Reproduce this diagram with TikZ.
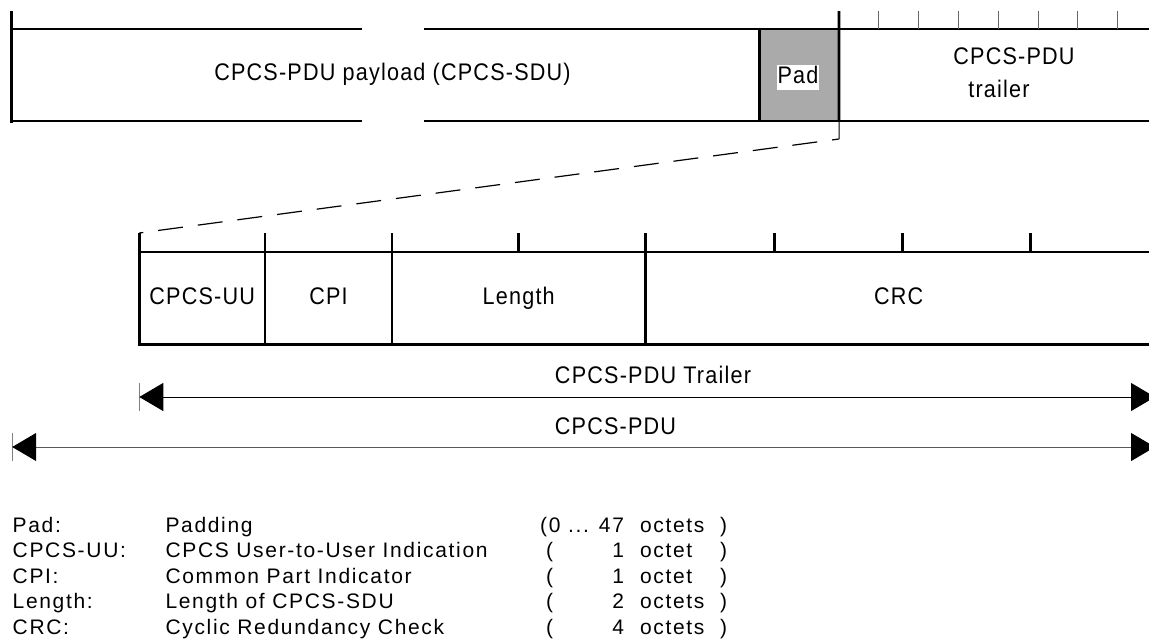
\documentclass[tikz,border=0pt]{standalone}
\usepackage{fontspec}
\setmainfont[FakeStretch=0.9,LetterSpace=5]{Liberation Sans}
\newfontfamily\legendfont[LetterSpace=8]{Liberation Sans}
\usetikzlibrary{arrows.meta,calc}
\definecolor{padgray}{RGB}{170,170,170}

\begin{document}
\begin{tikzpicture}[x=1pt,y=-1pt,
  every node/.style={font=\fontsize{24}{29}\selectfont, inner sep=0pt, outer sep=0pt},
  frame/.style={line width=2.6pt},
  octick/.style={line width=1pt, black!60},
  field/.style={draw, line width=2.6pt, minimum height=92.5pt, inner sep=0pt,
    anchor=north west, text height=17pt, text depth=5pt},
  padbox/.style={draw, line width=2.6pt, fill=padgray, minimum width=79.7pt,
    minimum height=92pt, anchor=north west},
  padlabel/.style={fill=white, inner xsep=1pt, inner ysep=1.5pt,
    text depth=4.5pt, anchor=base},
  thinrule/.style={line width=1pt},
  zoomline/.style={line width=1.2pt, dash pattern=on 25pt off 15pt, dash phase=18pt},
  span/.style={line width=1pt, {Triangle[length=24pt,width=28pt,color=black]}-{Triangle[length=24pt,width=28pt,color=black]}},
  tipbar/.style={line width=0.8pt, black!50},
  lbl/.style={anchor=base},
  lgd/.style={anchor=base west, font=\legendfont\fontsize{21}{25}\selectfont},
  lgdr/.style={anchor=base east, font=\legendfont\fontsize{21}{25}\selectfont}]

\useasboundingbox (0,0) rectangle (1149,641);
\clip (0,0) rectangle (1149,641);

% ---- CPCS-PDU: payload, pad and trailer ----
\draw[frame] (11.7,11) -- (11.7,123);
\draw[frame] (11.7,29) -- (362,29);
\draw[frame] (11.7,121) -- (362,121);
\draw[frame] (424,29) -- (1160,29);
\draw[frame] (424,121) -- (1160,121);
\node[lbl] (payload) at (392.5,80) {CPCS-PDU payload (CPCS-SDU)};

\node[padbox] (pad) at (759.3,29) {};
\node[padlabel] (padtxt) at (798,83.5) {Pad};
\draw[frame] (839,11) -- (pad.south east);
\draw[thinrule] (pad.south east) -- (839,139) coordinate (padlow);

\foreach \k in {1,...,7}
  \draw[octick] ({839+39.8*\k},11) -- ({839+39.8*\k},29);
\node[lbl] (trlA) at (1014,64) {CPCS-PDU};
\node[lbl] (trlB) at (999,97) {trailer};

% ---- trailer fields ----
\node[field, minimum width=125.7pt] (uu) at (139.3,252) {CPCS-UU};
\node[field, minimum width=127pt] (cpi) at (265,252) {CPI};
\node[field, minimum width=253.5pt] (len) at (392,252) {Length};
\node[field, minimum width=506.5pt] (crc) at (645.5,252) {CRC};
\foreach \x in {139.3,265,392,518.5,645.5,774.5,902.5,1030.5}
  \draw[frame] (\x,233) -- (\x,252);
\coordinate (uutop) at (139.3,233);

\draw[zoomline] (padlow) -- (uutop);

% ---- extent arrows ----
\coordinate (trS) at (139.3,397);
\coordinate (trE) at (1155,397);
\draw[tipbar] ($(trS)+(0,-14)$) -- ($(trS)+(0,14)$);
\draw[span] (trS) -- (trE);
\node[lbl] (trlbl) at (653,383) {CPCS-PDU Trailer};

\coordinate (pdS) at (12.2,447);
\coordinate (pdE) at (1155,447);
\draw[tipbar] ($(pdS)+(0,-14)$) -- ($(pdS)+(0,14)$);
\draw[span, draw=black!65] (pdS) -- (pdE);
\node[lbl] (pdlbl) at (615.5,434) {CPCS-PDU};

% ---- legend ----
\foreach \a/\b [count=\i] in {Pad:/Padding,
    CPCS-UU:/CPCS User-to-User Indication,
    CPI:/Common Part Indicator,
    Length:/Length of CPCS-SDU,
    CRC:/Cyclic Redundancy Check} {
  \node[lgd] (key\i) at (12.7,{532+25.5*(\i-1)}) {\a};
  \node[lgd] (desc\i) at (165.5,{532+25.5*(\i-1)}) {\b};
}
\node[lgdr] (num1) at (624,532) {(0 ... 47};
\foreach \n [count=\i from 2] in {1,1,2,4} {
  \node[lgd] (open\i) at (546,{532+25.5*(\i-1)}) {(};
  \node[lgdr] (num\i) at (624,{532+25.5*(\i-1)}) {\n};
}
\foreach \u [count=\i] in {octets,octet,octet,octets,octets} {
  \node[lgd] (unit\i) at (640,{532+25.5*(\i-1)}) {\u};
  \node[lgd] (close\i) at (720,{532+25.5*(\i-1)}) {)};
}
\end{tikzpicture}
\end{document}
